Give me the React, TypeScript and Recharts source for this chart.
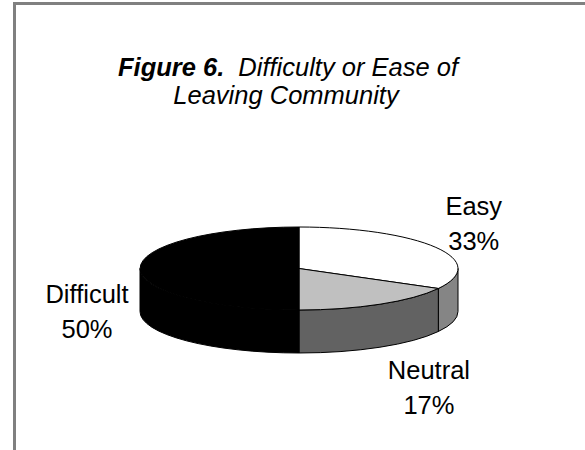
import { PieChart, Pie, Cell } from 'recharts';

const NAMES = ['Easy', 'Neutral', 'Difficult'];
const VALUES = [33, 17, 50];
const PERCENT_LABELS = ['33%', '17%', '50%'];

const TOP_COLORS = ['#ffffff', '#c0c0c0', '#000000'];
const SIDE_COLORS = ['#858585', '#626262', '#000000'];
// small nudges for the label blocks (Easy, Neutral, Difficult), like the hand placed ones in the original
const LABEL_NUDGE = [[-6, 0], [23, 15], [-2, -1]];

const TILT = 0.261; // ry / rx of the top face
const DEPTH = 43;
const FONT = '"Liberation Sans", Arial, sans-serif';

const data = NAMES.map((name, i) => ({ name, value: VALUES[i], pct: PERCENT_LABELS[i] }));

const RAD = Math.PI / 180;
const pt = (cx: number, cy: number, rx: number, ry: number, a: number, dy = 0) =>
  `${cx + rx * Math.cos(a * RAD)},${cy - ry * Math.sin(a * RAD) + dy}`;

function Slice3D(props: any) {
  const { cx, cy, outerRadius, startAngle, endAngle } = props;
  const name = props.payload?.name ?? props.name;
  const idx = Math.max(0, NAMES.indexOf(name));
  const rx = outerRadius;
  const ry = outerRadius * TILT;
  const hi = Math.max(startAngle, endAngle);
  const lo = Math.min(startAngle, endAngle);

  // outer wall, only the part facing the viewer (lower half of the ellipse)
  const walls: string[] = [];
  for (const k of [-360, 0, 360]) {
    const a0 = Math.max(lo, -180 + k);
    const a1 = Math.min(hi, k);
    if (a1 - a0 > 0.01) {
      walls.push(
        `M${pt(cx, cy, rx, ry, a1)} A${rx},${ry} 0 0 1 ${pt(cx, cy, rx, ry, a0)} ` +
          `L${pt(cx, cy, rx, ry, a0, DEPTH)} A${rx},${ry} 0 0 0 ${pt(cx, cy, rx, ry, a1, DEPTH)} Z`
      );
    }
  }
  const large = hi - lo > 180 ? 1 : 0;
  const top = `M${cx},${cy} L${pt(cx, cy, rx, ry, hi)} A${rx},${ry} 0 ${large} 1 ${pt(cx, cy, rx, ry, lo)} Z`;

  return (
    <g>
      {walls.map((d, i) => (
        <path key={i} d={d} fill={SIDE_COLORS[idx]} stroke="#000" strokeWidth={1} strokeLinejoin="round" />
      ))}
      <path d={top} fill={TOP_COLORS[idx]} stroke="#000" strokeWidth={1} strokeLinejoin="round" />
    </g>
  );
}

function renderLabel(props: any) {
  const { cx, cy, midAngle, outerRadius } = props;
  const name = props.payload?.name ?? props.name;
  const idx = Math.max(0, NAMES.indexOf(name));
  const s = Math.sin(midAngle * RAD);
  const c = Math.cos(midAngle * RAD);
  const front = s < 0.01;
  const x = cx + (outerRadius + 51) * c + LABEL_NUDGE[idx][0];
  const y = cy - 70 * s + (front ? DEPTH + 10 : 0) + LABEL_NUDGE[idx][1];
  return (
    <text x={x} y={y} textAnchor="middle" fontFamily={FONT} fontSize={25.5} fill="#000">
      <tspan x={x} y={y - 17.5}>{name}</tspan>
      <tspan x={x} y={y + 17.5}>{props.payload?.pct ?? PERCENT_LABELS[idx]}</tspan>
    </text>
  );
}

export default function App() {
  return (
    <div style={{ position: 'absolute', left: 0, top: 0, width: 585, height: 450, background: '#fff' }}>
      <div
        style={{
          position: 'absolute',
          left: 13,
          top: 2,
          width: 572,
          height: 448,
          borderTop: '3px solid #808080',
          borderLeft: '3px solid #808080',
          boxSizing: 'border-box',
        }}
      />
      <PieChart
        width={585}
        height={450}
        margin={{ top: 0, right: 0, bottom: 0, left: 0 }}
        style={{ position: 'absolute', left: 0, top: 0 }}
      >
        <text x={288} y={76} textAnchor="middle" fontFamily={FONT} fontSize={25.5} fontStyle="italic" fill="#000">
          <tspan fontWeight="bold">Figure 6.</tspan>
          <tspan dx={14}>Difficulty or Ease of</tspan>
        </text>
        <text x={286} y={104} textAnchor="middle" fontFamily={FONT} fontSize={25.5} fontStyle="italic" fill="#000">
          Leaving Community
        </text>
        <Pie
          data={data}
          dataKey="value"
          nameKey="name"
          cx={299}
          cy={268.5}
          outerRadius={159}
          startAngle={90}
          endAngle={-270}
          shape={Slice3D}
          label={renderLabel}
          labelLine={false}
          isAnimationActive={false}
        >
          {data.map((entry, index) => (
            <Cell key={`cell-${index}`} fill={TOP_COLORS[index]} />
          ))}
        </Pie>
      </PieChart>
    </div>
  );
}
